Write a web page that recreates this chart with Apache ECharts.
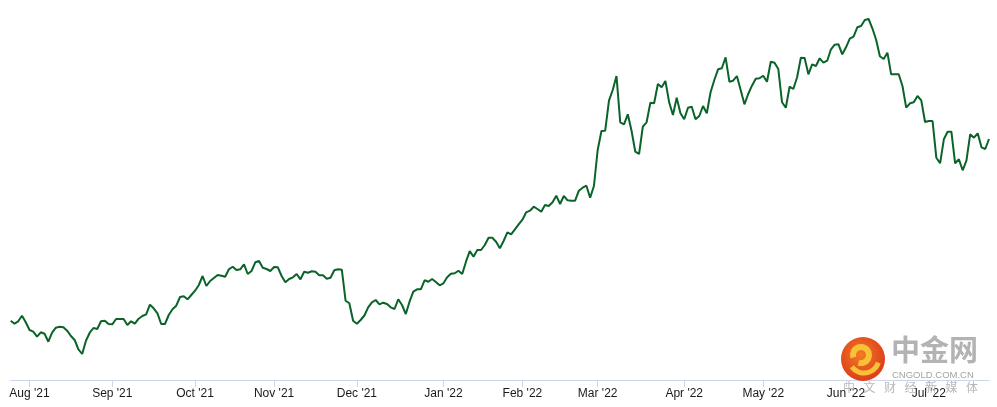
<!DOCTYPE html>
<html>
<head>
<meta charset="utf-8">
<script src="https://cdn.jsdelivr.net/npm/echarts@6/dist/echarts.min.js"></script>
<style>
html,body{margin:0;padding:0;background:#fff;}
#chart{width:997px;height:407px;}
</style>
</head>
<body>
<div id="chart"></div>
<script>
// Trading days (weekdays) covered by the series
const startDate = '2021-07-26';
const endDate = '2022-07-25';

// Month tick labels on the x axis
const tickMonths = ['2021-08','2021-09','2021-10','2021-11','2021-12','2022-01','2022-02','2022-03','2022-04','2022-05','2022-06','2022-07'];
const tickLabels = ["Aug '21","Sep '21","Oct '21","Nov '21","Dec '21","Jan '22","Feb '22","Mar '22","Apr '22","May '22","Jun '22","Jul '22"];

// Series values (arbitrary units above the axis)
const values = [
59.3,56.3,58.7,64.3,57.7,50,48.3,43.3,47.7,46.3,
38.3,47.3,52.3,53.3,52.7,49.3,44,40,30.7,26,
39.3,47.3,52,51,58.7,59.3,56,55.7,61,61,
61,55,58.7,56.3,61.3,64,65.7,75.3,71.7,66.7,
56,56,65,70.7,74.3,83,83.7,80.7,85,89.3,
95,104,94,99,102,105,104.3,103.3,110.7,113.3,
110,110.7,115.7,106,109,117.7,119,112.3,111,109,
113,112.7,104,97.7,101,102.7,106,100.7,108.3,107.3,
108.7,108.3,104.7,104.7,101.3,102.3,109.7,110.7,110.3,79.3,
76.7,59.3,56.3,60,64.5,72.7,77.7,80,75.7,77.3,
76,72.7,71,80.7,75,66,78.3,88.3,90.7,90.7,
99.7,98.3,101,98,94.7,96.7,102.7,106.3,106.7,109.3,
106,118.3,129,123.3,130,130,135,142.3,142.3,138.3,
131.7,139,147.7,145.7,150.7,155.7,160.3,167.7,169.3,173.3,
171,168.3,175,174,177.7,184.3,176,184,179.7,179.3,
179.3,189.3,192.3,194.3,182.3,194,230,249,249.3,279.3,
290,304,257.7,255.7,265.7,249.3,228.3,226,253.3,257.7,
277.3,276.7,296,292.7,299,277.7,265,282.3,266.7,260.7,
272.3,273.3,260.7,264,274,266.7,287.7,300,310.7,311.7,
322.7,298.3,299.3,304,290,275.7,286,294.3,301.3,301.7,
304.3,298.3,318.3,317.3,311,277.7,272.3,293.3,291,302.7,
322.3,322,305.7,315.7,314,321.7,317.3,319.3,330.7,335.3,
335.7,325.7,332.7,341.3,343.3,352.7,354,360,361,351.7,
340.3,323.7,321,327.3,305.7,305.7,305.7,294,272.3,276.7,
277.7,284,279.7,258,259,259,222.3,216.7,240.7,248.3,
248.3,216.7,220.7,209.7,219.3,245.7,242.3,246.7,232.7,231,
241
];

// Build weekday categories
const categories = [];
(function(){
  const s = startDate.split('-').map(Number), e = endDate.split('-').map(Number);
  let d = new Date(Date.UTC(s[0], s[1]-1, s[2]));
  const end = new Date(Date.UTC(e[0], e[1]-1, e[2]));
  while (d <= end) {
    const wd = d.getUTCDay();
    if (wd !== 0 && wd !== 6) categories.push(d.toISOString().slice(0,10));
    d = new Date(d.getTime() + 86400000);
  }
})();

const monthStart = {};
categories.forEach((c, i) => {
  const m = c.slice(0,7);
  if ((i === 0 || categories[i-1].slice(0,7) !== m) && tickMonths.indexOf(m) >= 0) monthStart[i] = true;
});
const showTick = (idx) => !!monthStart[idx];

const chart = echarts.init(document.getElementById('chart'), null, {renderer:'canvas'});

const wmChars = ['中','文','财','经','新','媒','体'];
const wmGraphics = [
  {type:'circle', z:100, shape:{cx:863, cy:359, r:22},
   style:{fill:new echarts.graphic.RadialGradient(0.45,0.4,0.7,[{offset:0,color:'#f47a22'},{offset:1,color:'#d9331b'}])}},
  {type:'arc', z:101, shape:{cx:861, cy:355, r:8, startAngle:Math.PI*0.9, endAngle:Math.PI*2.6, clockwise:true},
   style:{stroke:'#f8c238', lineWidth:6, fill:null}},
  {type:'arc', z:101, shape:{cx:864, cy:358, r:15, startAngle:Math.PI*0.1, endAngle:Math.PI*0.8, clockwise:true},
   style:{stroke:'#f8c238', lineWidth:5, fill:null}},
  {type:'text', z:100, left:891, top:335,
   style:{text:'中金网', font:'bold 29px "Noto Sans CJK SC"', fill:'#b3b3b3'}},
  {type:'text', z:100, left:892, top:370,
   style:{text:'CNGOLD.COM.CN', font:'9.5px "Liberation Sans", Arial, sans-serif', fill:'#a3a3a3'}}
];
wmChars.forEach((ch, k) => {
  wmGraphics.push({type:'text', z:100, left:843 + k*20.5, top:381,
    style:{text:ch, font:'12px "Noto Sans CJK SC"', fill:'#b8b8b8'}});
});

chart.setOption({
  animation:false,
  backgroundColor:'#ffffff',
  grid:{left:10.7, right:8, top:0, bottom:27, containLabel:false},
  xAxis:{
    type:'category',
    data:categories,
    boundaryGap:false,
    axisLine:{show:true, lineStyle:{color:'#ccd6eb', width:1}},
    axisTick:{show:true, interval:showTick, length:7, lineStyle:{color:'#ccd6eb', width:1}},
    axisLabel:{
      show:true, interval:showTick, margin:8,
      color:'#1a1a1a', fontSize:12, fontFamily:'"Liberation Sans", Arial, sans-serif',
      formatter:(val) => { const k = tickMonths.indexOf(val.slice(0,7)); return k >= 0 ? tickLabels[k] : ''; }
    },
    splitLine:{show:false}
  },
  yAxis:{
    type:'value', min:0, max:380, show:false,
    splitLine:{show:false}
  },
  series:[{
    type:'line',
    data:values,
    showSymbol:false,
    symbol:'none',
    lineStyle:{color:'#0a6329', width:2},
    itemStyle:{color:'#0a6329'}
  }],
  graphic:wmGraphics
});
</script>
</body>
</html>
